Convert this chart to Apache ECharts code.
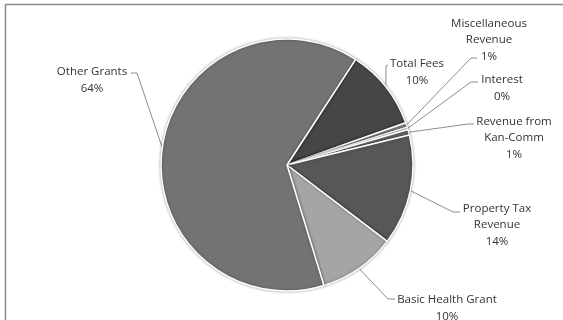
<!DOCTYPE html>
<html>
<head>
<meta charset="utf-8">
<script src="https://cdn.jsdelivr.net/npm/echarts@6/dist/echarts.min.js"></script>
<style>
  html, body { margin: 0; padding: 0; background: #fff; }
  #chart { width: 563px; height: 320px; }
</style>
</head>
<body>
<div id="chart"></div>
<script>
// slices, clockwise from the Other Grants / Total Fees boundary
const categories = [
  'Total Fees',
  'Miscellaneous\nRevenue',
  'Interest',
  'Revenue from\nKan-Comm',
  'Property Tax\nRevenue',
  'Basic Health Grant',
  'Other Grants'
]
const values = [10.4, 0.6, 0.3, 0.7, 14.2, 9.9, 63.9]
const colors = ['#464646', '#8a8a8a', '#bdbdbd', '#6a6a6a', '#575757', '#a5a5a5', '#737373']

// where each label sits (text centre) and where its leader line bends / ends
const labelSpots = [
  { x: 417, y: 72, bend: [386, 66], end: [388, 65] },
  { x: 489, y: 40, bend: [471, 58], end: [477, 58] },
  { x: 502, y: 88, bend: [471, 82], end: [478, 82] },
  { x: 514, y: 138, bend: [468, 124], end: [474, 124] },
  { x: 497, y: 225, bend: [453, 212], end: [460, 212] },
  { x: 447, y: 308, bend: [388, 299], end: [395, 299] },
  { x: 92, y: 80, bend: [137, 73], end: [131, 73] }
]

const chart = echarts.init(document.getElementById('chart'))

const options = {
  animation: false,
  graphic: [
    {
      type: 'rect',
      shape: { x: 5.5, y: 4.5, width: 600, height: 400 },
      style: { fill: 'none', stroke: '#8c8c8c', lineWidth: 1.5 },
      silent: true
    }
  ],
  series: [
    {
      type: 'pie',
      center: [287, 165],
      radius: 126,
      startAngle: 57,
      clockwise: true,
      avoidLabelOverlap: false,
      itemStyle: {
        borderColor: '#ffffff',
        borderWidth: 1.5,
        shadowBlur: 3,
        shadowColor: 'rgba(0,0,0,0.35)'
      },
      label: {
        show: true,
        position: 'outside',
        fontFamily: 'Open Sans',
        fontSize: 11.5,
        lineHeight: 16.5,
        color: '#333333',
        formatter: function (p) {
          return p.name + '\n' + Math.round(p.percent) + '%'
        }
      },
      labelLine: {
        show: true,
        length: 10,
        length2: 5,
        lineStyle: { color: '#8c8c8c', width: 1 }
      },
      labelLayout: function (params) {
        const spot = labelSpots[params.dataIndex]
        const anchor = params.labelLinePoints ? params.labelLinePoints[0] : spot.bend
        return {
          x: spot.x,
          y: spot.y,
          align: 'center',
          verticalAlign: 'middle',
          labelLinePoints: [anchor, spot.bend, spot.end]
        }
      },
      emphasis: { disabled: true },
      data: categories.map(function (name, i) {
        return { name: name, value: values[i], itemStyle: { color: colors[i] } }
      })
    }
  ]
}

chart.setOption(options)

window.addEventListener('resize', chart.resize)
</script>
</body>
</html>
